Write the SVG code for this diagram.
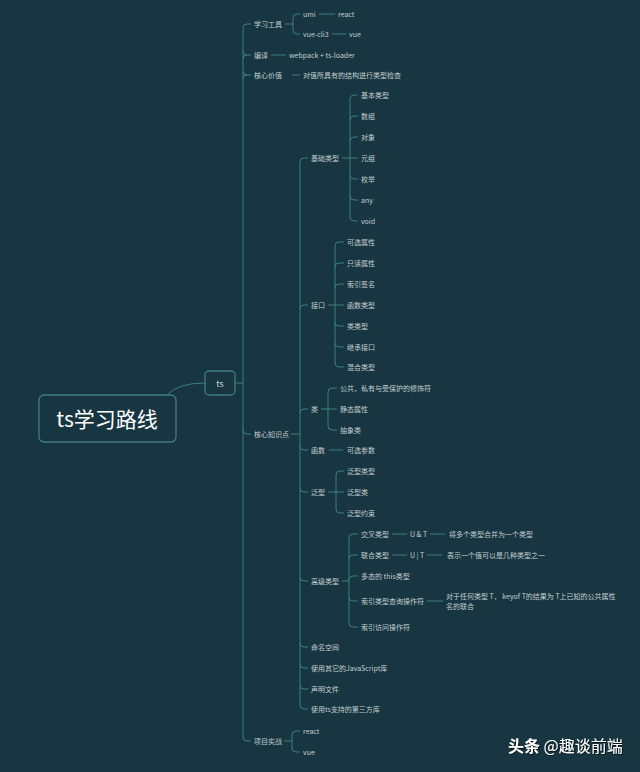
<svg xmlns="http://www.w3.org/2000/svg" width="640" height="772" viewBox="0 0 640 772">
<style>
.bg{fill:#173641}
.ln{fill:none;stroke:#3b7f7c;stroke-width:1}
.t{font-family:"Noto Sans CJK SC","Noto Sans",sans-serif;font-size:7px;fill:#c3cdd0;dominant-baseline:central}
.box{fill:#173641;stroke:#3f7f7d;stroke-width:1.3}
.root{font-family:"Noto Sans CJK SC","Noto Sans",sans-serif;font-size:21px;fill:#ffffff;text-anchor:middle;dominant-baseline:central}
.tsl{font-family:"Noto Sans CJK SC","Noto Sans",sans-serif;font-size:9px;fill:#d0d8da;text-anchor:middle;dominant-baseline:central}
.wm{font-family:"Noto Sans CJK SC","Noto Sans",sans-serif;font-size:16px;fill:#ffffff;dominant-baseline:central;filter:url(#sh)}
</style>
<defs>
<filter id="sh" x="-10%" y="-30%" width="120%" height="160%"><feDropShadow dx="0.8" dy="0.8" stdDeviation="0.6" flood-color="#000" flood-opacity="0.8"/></filter>
</defs>
<rect class="bg" x="0" y="0" width="640" height="772"/>
<g id="connectors">
<path class="ln" d="M167 395 Q178 383 205 383"/>
<path class="ln" d="M235 383 H243"/>
<!-- main trunk -->
<path class="ln" d="M243 28 V737"/>
<path class="ln" d="M243 28 Q243 24 247 24 H251"/>
<path class="ln" d="M243 51 Q243 55 247 55 H251"/>
<path class="ln" d="M243 59 Q243 55 247 55"/>
<path class="ln" d="M243 71 Q243 75 247 75 H251"/>
<path class="ln" d="M243 79 Q243 75 247 75"/>
<path class="ln" d="M243 430 Q243 434 247 434 H251"/>
<path class="ln" d="M243 737 Q243 741 247 741 H251"/>
<!-- 学习工具 -->
<path class="ln" d="M285 24 H293"/>
<path class="ln" d="M293 18 Q293 14 297 14 H300 M293 18 V30 Q293 34 297 34 H300"/>
<path class="ln" d="M319 14 H335"/>
<path class="ln" d="M332 34 H346"/>
<path class="ln" d="M271 55 H286"/>
<path class="ln" d="M292 75 H300"/>
<!-- 核心知识点 -->
<path class="ln" d="M291 434 H300"/>
<path class="ln" d="M300 162 V705"/>
<path class="ln" d="M300 162 Q300 158 304 158 H308"/>
<path class="ln" d="M300 309 Q300 305 304 305 H308"/>
<path class="ln" d="M300 413 Q300 409 304 409 H308"/>
<path class="ln" d="M300 446 Q300 450 304 450 H308"/>
<path class="ln" d="M300 488 Q300 492 304 492 H308"/>
<path class="ln" d="M300 577 Q300 581 304 581 H308"/>
<path class="ln" d="M300 643 Q300 647 304 647 H308"/>
<path class="ln" d="M300 664 Q300 668 304 668 H308"/>
<path class="ln" d="M300 685 Q300 689 304 689 H308"/>
<path class="ln" d="M300 705 Q300 709 304 709 H308"/>
<!-- 基础类型 -->
<path class="ln" d="M342 158 H358"/>
<path class="ln" d="M350 99 V217"/>
<path class="ln" d="M350 99 Q350 95 354 95 H358"/>
<path class="ln" d="M350 120 Q350 116 354 116 H358"/>
<path class="ln" d="M350 141 Q350 137 354 137 H358"/>
<path class="ln" d="M350 175 Q350 179 354 179 H358"/>
<path class="ln" d="M350 196 Q350 200 354 200 H358"/>
<path class="ln" d="M350 217 Q350 221 354 221 H358"/>
<!-- 接口 -->
<path class="ln" d="M328 305 H344"/>
<path class="ln" d="M335 246 V363"/>
<path class="ln" d="M335 246 Q335 242 339 242 H344"/>
<path class="ln" d="M335 267 Q335 263 339 263 H344"/>
<path class="ln" d="M335 288 Q335 284 339 284 H344"/>
<path class="ln" d="M335 322 Q335 326 339 326 H344"/>
<path class="ln" d="M335 343 Q335 347 339 347 H344"/>
<path class="ln" d="M335 363 Q335 367 339 367 H344"/>
<!-- 类 -->
<path class="ln" d="M321 409 H337"/>
<path class="ln" d="M328 392 V426"/>
<path class="ln" d="M328 392 Q328 388 332 388 H337"/>
<path class="ln" d="M328 426 Q328 430 332 430 H337"/>
<!-- 函数 -->
<path class="ln" d="M329 450 H343"/>
<!-- 泛型 -->
<path class="ln" d="M328 492 H344"/>
<path class="ln" d="M336 475 V509"/>
<path class="ln" d="M336 475 Q336 471 340 471 H344"/>
<path class="ln" d="M336 509 Q336 513 340 513 H344"/>
<!-- 高级类型 -->
<path class="ln" d="M342 581 H349"/>
<path class="ln" d="M349 538 V623"/>
<path class="ln" d="M349 538 Q349 534 353 534 H358"/>
<path class="ln" d="M349 559 Q349 555 353 555 H358"/>
<path class="ln" d="M349 580 Q349 576 353 576 H358"/>
<path class="ln" d="M349 597 Q349 601 353 601 H358"/>
<path class="ln" d="M349 623 Q349 627 353 627 H358"/>
<path class="ln" d="M392 534 H407"/>
<path class="ln" d="M430 534 H445"/>
<path class="ln" d="M392 555 H407"/>
<path class="ln" d="M427 555 H442"/>
<path class="ln" d="M427 601 H443"/>
<!-- 项目实战 -->
<path class="ln" d="M284 741 H292"/>
<path class="ln" d="M292 735 Q292 731 296 731 H300 M292 735 V748 Q292 752 296 752 H300"/>
</g>
<g id="root"><rect class="box" x="39" y="395" width="137" height="47" rx="5"/><text class="root" x="107" y="418">ts学习路线</text></g>
<g id="ts"><rect class="box" x="205" y="371" width="30" height="24" rx="4"/><text class="tsl" x="220" y="383">ts</text></g>
<g id="n-study"><text class="t" x="254" y="24">学习工具</text></g>
<g id="n-umi"><text class="t" x="303" y="14">umi</text></g>
<g id="n-react1"><text class="t" x="338" y="14">react</text></g>
<g id="n-vuecli"><text class="t" x="303" y="34">vue-cli3</text></g>
<g id="n-vue1"><text class="t" x="349" y="34">vue</text></g>
<g id="n-compile"><text class="t" x="254" y="55">编译</text></g>
<g id="n-webpack"><text class="t" x="289" y="55">webpack + ts-loader</text></g>
<g id="n-value"><text class="t" x="254" y="75">核心价值</text></g>
<g id="n-value2"><text class="t" x="303" y="75">对值所具有的结构进行类型检查</text></g>
<g id="n-core"><text class="t" x="254" y="434">核心知识点</text></g>
<g id="n-basic"><text class="t" x="311" y="158">基础类型</text></g>
<g id="n-b1"><text class="t" x="361" y="95">基本类型</text></g>
<g id="n-b2"><text class="t" x="361" y="116">数组</text></g>
<g id="n-b3"><text class="t" x="361" y="137">对象</text></g>
<g id="n-b4"><text class="t" x="361" y="158">元组</text></g>
<g id="n-b5"><text class="t" x="361" y="179">枚举</text></g>
<g id="n-b6"><text class="t" x="361" y="200">any</text></g>
<g id="n-b7"><text class="t" x="361" y="221">void</text></g>
<g id="n-iface"><text class="t" x="311" y="305">接口</text></g>
<g id="n-i1"><text class="t" x="347" y="242">可选属性</text></g>
<g id="n-i2"><text class="t" x="347" y="263">只读属性</text></g>
<g id="n-i3"><text class="t" x="347" y="284">索引签名</text></g>
<g id="n-i4"><text class="t" x="347" y="305">函数类型</text></g>
<g id="n-i5"><text class="t" x="347" y="326">类类型</text></g>
<g id="n-i6"><text class="t" x="347" y="347">继承接口</text></g>
<g id="n-i7"><text class="t" x="347" y="367">混合类型</text></g>
<g id="n-class"><text class="t" x="311" y="409">类</text></g>
<g id="n-c1"><text class="t" x="340" y="388">公共，私有与受保护的修饰符</text></g>
<g id="n-c2"><text class="t" x="340" y="409">静态属性</text></g>
<g id="n-c3"><text class="t" x="340" y="430">抽象类</text></g>
<g id="n-func"><text class="t" x="311" y="450">函数</text></g>
<g id="n-f1"><text class="t" x="347" y="450">可选参数</text></g>
<g id="n-gen"><text class="t" x="311" y="492">泛型</text></g>
<g id="n-g1"><text class="t" x="347" y="471">泛型类型</text></g>
<g id="n-g2"><text class="t" x="347" y="492">泛型类</text></g>
<g id="n-g3"><text class="t" x="347" y="513">泛型约束</text></g>
<g id="n-adv"><text class="t" x="311" y="581">高级类型</text></g>
<g id="n-a1"><text class="t" x="361" y="534">交叉类型</text></g>
<g id="n-a1b"><text class="t" x="410" y="534">U &amp; T</text></g>
<g id="n-a1c"><text class="t" x="449" y="534">将多个类型合并为一个类型</text></g>
<g id="n-a2"><text class="t" x="361" y="555">联合类型</text></g>
<g id="n-a2b"><text class="t" x="410" y="555">U | T</text></g>
<g id="n-a2c"><text class="t" x="447" y="555">表示一个值可以是几种类型之一</text></g>
<g id="n-a3"><text class="t" x="361" y="576">多态的 this类型</text></g>
<g id="n-a4"><text class="t" x="361" y="601">索引类型查询操作符</text></g>
<g id="n-a4b"><text class="t" x="446" y="596">对于任何类型 T， keyof T的结果为 T上已知的公共属性</text><text class="t" x="446" y="606">名的联合</text></g>
<g id="n-a5"><text class="t" x="361" y="627">索引访问操作符</text></g>
<g id="n-ns"><text class="t" x="311" y="647">命名空间</text></g>
<g id="n-js"><text class="t" x="311" y="668">使用其它的JavaScript库</text></g>
<g id="n-decl"><text class="t" x="311" y="689">声明文件</text></g>
<g id="n-third"><text class="t" x="311" y="709">使用ts支持的第三方库</text></g>
<g id="n-proj"><text class="t" x="254" y="741">项目实战</text></g>
<g id="n-p1"><text class="t" x="303" y="731">react</text></g>
<g id="n-p2"><text class="t" x="303" y="752">vue</text></g>
<text class="wm" x="508" y="745"><tspan font-weight="bold">头条</tspan> @趣谈前端</text>
</svg>
